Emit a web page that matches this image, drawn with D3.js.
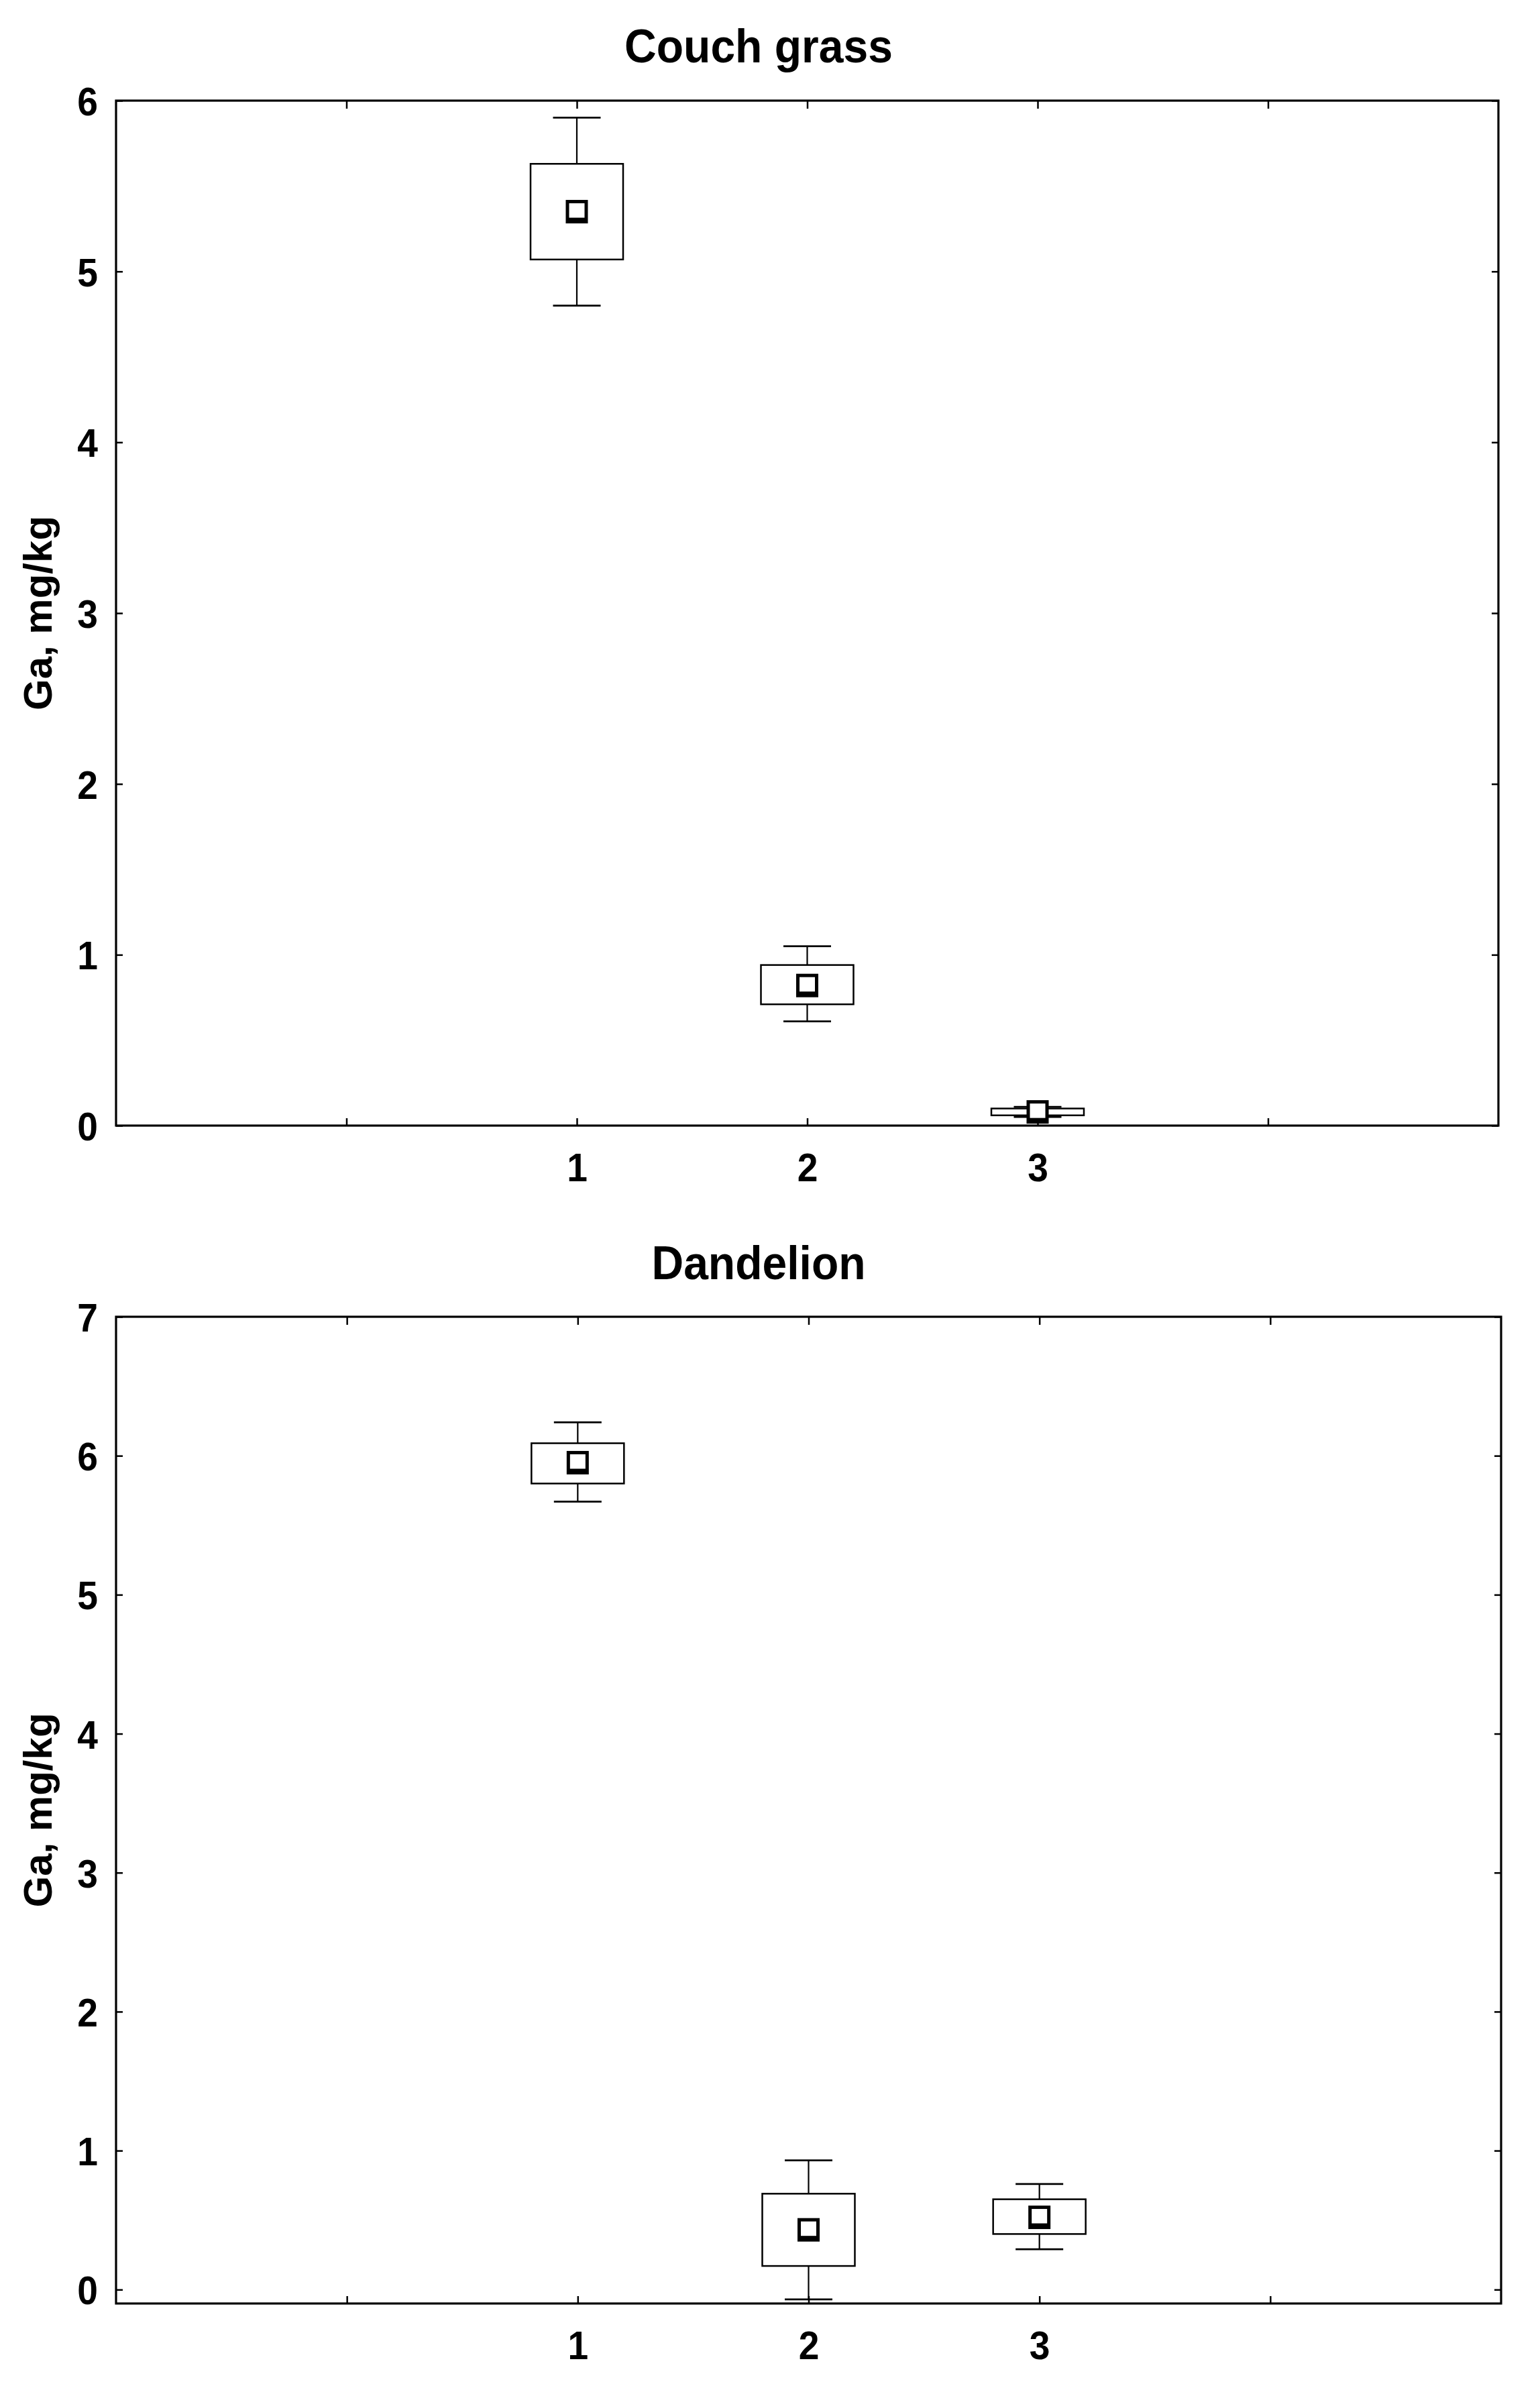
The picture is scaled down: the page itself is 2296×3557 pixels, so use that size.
<!DOCTYPE html>
<html>
    <head>
        <script type="text/javascript" src="https://d3js.org/d3.v7.min.js"></script>
        <style>
            body { margin: 0; background: #ffffff; }
            svg { display: block; }
        </style>
    </head>

    <body>
        <svg id="chart" width="2296" height="3557"></svg>

        <script type="text/javascript">
            // groups on the x axis
            var categories = [1, 2, 3];
            var xTicks = [0, 1, 2, 3, 4];

            // Couch grass: mean, box (lo/hi) and whiskers (lo/hi)
            var couchMean    = [5.35, 0.82, 0.08];
            var couchBoxLo   = [5.07, 0.71, 0.06];
            var couchBoxHi   = [5.63, 0.94, 0.10];
            var couchWhiskLo = [4.80, 0.61, 0.05];
            var couchWhiskHi = [5.90, 1.05, 0.11];
            var couchTicks   = [0, 1, 2, 3, 4, 5, 6];

            // Dandelion
            var dandMean    = [5.95, 0.43, 0.52];
            var dandBoxLo   = [5.80, 0.17, 0.40];
            var dandBoxHi   = [6.09, 0.69, 0.65];
            var dandWhiskLo = [5.67, -0.07, 0.29];
            var dandWhiskHi = [6.24, 0.93, 0.76];
            var dandTicks   = [0, 1, 2, 3, 4, 5, 6, 7];

            var yLabel = "Ga, mg/kg";
            var FONT = "'Liberation Sans', Arial, sans-serif";
            var SQ = 0.92; // the original text is a bit condensed

            var svg = d3.select("#chart");

            function drawPanel(p){
                var x = d3.scaleLinear().domain([-1, 5]).range([p.left, p.right]);
                var y = d3.scaleLinear().domain(p.yDomain).range([p.bottom, p.top]);

                var g = svg.append("g");

                // title
                g.append("text")
                    .attr("transform", "translate(1131," + p.titleY + ") scale(0.93,1)")
                    .attr("text-anchor", "middle")
                    .style("font-family", FONT)
                    .style("font-weight", "bold")
                    .style("font-size", "71px")
                    .text(p.title);

                // y axis title
                g.append("text")
                    .attr("transform", "translate(77," + ((p.top + p.bottom) / 2) + ") rotate(-90)")
                    .attr("text-anchor", "middle")
                    .style("font-family", FONT)
                    .style("font-weight", "bold")
                    .style("font-size", "60px")
                    .text(yLabel);

                // axes, ticks pointing inward
                var left = g.append("g")
                    .attr("transform", "translate(" + p.left + ",0)")
                    .call(d3.axisLeft(y).tickValues(p.ticks).tickSizeInner(-10).tickSizeOuter(0).tickPadding(27).tickFormat(d3.format("d")));
                left.selectAll("text")
                    .attr("x", -27 / SQ)
                    .attr("dy", "0.36em")
                    .attr("transform", "scale(" + SQ + ",1)");

                g.append("g")
                    .attr("transform", "translate(" + p.right + ",0)")
                    .call(d3.axisRight(y).tickValues(p.ticks).tickSizeInner(-10).tickSizeOuter(0).tickFormat(""));

                g.append("g")
                    .attr("transform", "translate(0," + p.top + ")")
                    .call(d3.axisTop(x).tickValues(xTicks).tickSizeInner(-12).tickSizeOuter(0).tickFormat(""));

                var bottom = g.append("g")
                    .attr("transform", "translate(0," + p.bottom + ")")
                    .call(d3.axisBottom(x).tickValues(xTicks).tickSizeInner(-11).tickSizeOuter(0)
                        .tickFormat(function(d){ return categories.indexOf(d) >= 0 ? d : ""; }));
                bottom.selectAll("text")
                    .attr("y", 83)
                    .attr("dy", 0)
                    .attr("transform", "scale(" + SQ + ",1)");

                g.selectAll(".domain").remove();
                g.selectAll(".tick line").attr("stroke", "#000").attr("stroke-width", 2.5);
                g.selectAll(".tick text")
                    .attr("fill", "#000")
                    .style("font-family", FONT)
                    .style("font-weight", "bold")
                    .style("font-size", "60px");

                // frame
                g.append("rect")
                    .attr("x", p.left).attr("y", p.top)
                    .attr("width", p.right - p.left).attr("height", p.bottom - p.top)
                    .attr("fill", "none").attr("stroke", "#000").attr("stroke-width", 3.2);

                var rows = categories.map(function(c, i){
                    return {c: c, mean: p.mean[i], lo: p.boxLo[i], hi: p.boxHi[i], wlo: p.whiskLo[i], whi: p.whiskHi[i]};
                });

                var box = g.selectAll(".box").data(rows).enter().append("g").attr("class", "box");
                var bw = 138, cw = 71;

                // whisker stems
                box.append("line")
                    .attr("x1", function(d){ return x(d.c); }).attr("x2", function(d){ return x(d.c); })
                    .attr("y1", function(d){ return y(d.whi); }).attr("y2", function(d){ return y(d.wlo); })
                    .attr("stroke", "#000").attr("stroke-width", 2.2);
                // caps
                ["wlo", "whi"].forEach(function(k){
                    box.append("line")
                        .attr("x1", function(d){ return x(d.c) - cw / 2; }).attr("x2", function(d){ return x(d.c) + cw / 2; })
                        .attr("y1", function(d){ return y(d[k]); }).attr("y2", function(d){ return y(d[k]); })
                        .attr("stroke", "#000").attr("stroke-width", 2.7);
                });
                // box
                box.append("rect")
                    .attr("x", function(d){ return x(d.c) - bw / 2; })
                    .attr("y", function(d){ return y(d.hi); })
                    .attr("width", bw)
                    .attr("height", function(d){ return y(d.lo) - y(d.hi); })
                    .attr("fill", "#fff").attr("stroke", "#000").attr("stroke-width", 2.5);
                // mean marker
                box.append("rect")
                    .attr("x", function(d){ return x(d.c) - 16.5; })
                    .attr("y", function(d){ return y(d.mean) - 17.5; })
                    .attr("width", 33).attr("height", 35)
                    .attr("fill", "#000");
                box.append("rect")
                    .attr("x", function(d){ return x(d.c) - 11.5; })
                    .attr("y", function(d){ return y(d.mean) - 12.5; })
                    .attr("width", 23).attr("height", 21.5)
                    .attr("fill", "#fff");
            }

            drawPanel({
                title: "Couch grass", titleY: 93,
                left: 173, right: 2234, top: 150, bottom: 1678,
                yDomain: [0, 6], ticks: couchTicks,
                mean: couchMean, boxLo: couchBoxLo, boxHi: couchBoxHi,
                whiskLo: couchWhiskLo, whiskHi: couchWhiskHi
            });

            drawPanel({
                title: "Dandelion", titleY: 1907,
                left: 173, right: 2238, top: 1963, bottom: 3434,
                yDomain: [-0.1, 7], ticks: dandTicks,
                mean: dandMean, boxLo: dandBoxLo, boxHi: dandBoxHi,
                whiskLo: dandWhiskLo, whiskHi: dandWhiskHi
            });
        </script>
    </body>
</html>
